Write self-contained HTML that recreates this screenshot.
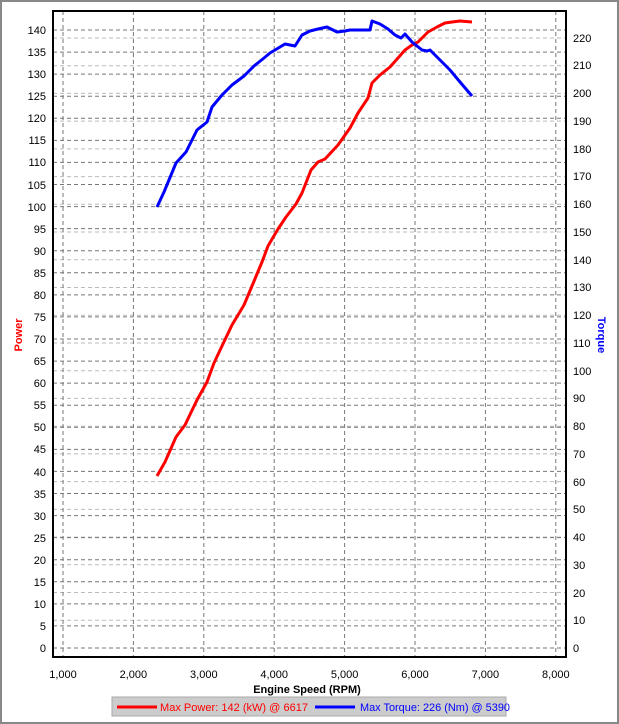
<!DOCTYPE html>
<html><head><style>
html,body{margin:0;padding:0;background:#fff;}
svg{display:block;font-family:"Liberation Sans",Arial,sans-serif;}
</style></head><body>
<svg width="619" height="724" viewBox="0 0 619 724" xmlns="http://www.w3.org/2000/svg">
<rect x="0" y="0" width="619" height="724" fill="#fff"/>
<rect x="1" y="1" width="617" height="722" fill="none" stroke="#888" stroke-width="2"/>
<g stroke="#bbb" stroke-dasharray="4,3" stroke-width="1">
<line x1="53" x2="566" y1="648" y2="648"/><line x1="53" x2="566" y1="620.3" y2="620.3"/><line x1="53" x2="566" y1="592.5" y2="592.5"/><line x1="53" x2="566" y1="564.8" y2="564.8"/><line x1="53" x2="566" y1="537.1" y2="537.1"/><line x1="53" x2="566" y1="509.4" y2="509.4"/><line x1="53" x2="566" y1="481.6" y2="481.6"/><line x1="53" x2="566" y1="453.9" y2="453.9"/><line x1="53" x2="566" y1="426.2" y2="426.2"/><line x1="53" x2="566" y1="398.4" y2="398.4"/><line x1="53" x2="566" y1="370.7" y2="370.7"/><line x1="53" x2="566" y1="343" y2="343"/><line x1="53" x2="566" y1="315.2" y2="315.2"/><line x1="53" x2="566" y1="287.5" y2="287.5"/><line x1="53" x2="566" y1="259.8" y2="259.8"/><line x1="53" x2="566" y1="232" y2="232"/><line x1="53" x2="566" y1="204.3" y2="204.3"/><line x1="53" x2="566" y1="176.6" y2="176.6"/><line x1="53" x2="566" y1="148.9" y2="148.9"/><line x1="53" x2="566" y1="121.1" y2="121.1"/><line x1="53" x2="566" y1="93.4" y2="93.4"/><line x1="53" x2="566" y1="65.7" y2="65.7"/><line x1="53" x2="566" y1="38" y2="38"/>
</g>
<g stroke="#777" stroke-dasharray="4,3" stroke-width="1">
<line x1="53" x2="566" y1="648" y2="648"/><line x1="53" x2="566" y1="625.9" y2="625.9"/><line x1="53" x2="566" y1="603.9" y2="603.9"/><line x1="53" x2="566" y1="581.8" y2="581.8"/><line x1="53" x2="566" y1="559.7" y2="559.7"/><line x1="53" x2="566" y1="537.6" y2="537.6"/><line x1="53" x2="566" y1="515.6" y2="515.6"/><line x1="53" x2="566" y1="493.5" y2="493.5"/><line x1="53" x2="566" y1="471.4" y2="471.4"/><line x1="53" x2="566" y1="449.4" y2="449.4"/><line x1="53" x2="566" y1="427.3" y2="427.3"/><line x1="53" x2="566" y1="405.2" y2="405.2"/><line x1="53" x2="566" y1="383.1" y2="383.1"/><line x1="53" x2="566" y1="361.1" y2="361.1"/><line x1="53" x2="566" y1="339" y2="339"/><line x1="53" x2="566" y1="316.9" y2="316.9"/><line x1="53" x2="566" y1="294.9" y2="294.9"/><line x1="53" x2="566" y1="272.8" y2="272.8"/><line x1="53" x2="566" y1="250.7" y2="250.7"/><line x1="53" x2="566" y1="228.6" y2="228.6"/><line x1="53" x2="566" y1="206.6" y2="206.6"/><line x1="53" x2="566" y1="184.5" y2="184.5"/><line x1="53" x2="566" y1="162.4" y2="162.4"/><line x1="53" x2="566" y1="140.4" y2="140.4"/><line x1="53" x2="566" y1="118.3" y2="118.3"/><line x1="53" x2="566" y1="96.2" y2="96.2"/><line x1="53" x2="566" y1="74.1" y2="74.1"/><line x1="53" x2="566" y1="52.1" y2="52.1"/><line x1="53" x2="566" y1="30" y2="30"/>
<line y1="11" y2="657" x1="63" x2="63"/><line y1="11" y2="657" x1="133.4" x2="133.4"/><line y1="11" y2="657" x1="203.8" x2="203.8"/><line y1="11" y2="657" x1="274.2" x2="274.2"/><line y1="11" y2="657" x1="344.6" x2="344.6"/><line y1="11" y2="657" x1="415" x2="415"/><line y1="11" y2="657" x1="485.4" x2="485.4"/><line y1="11" y2="657" x1="555.8" x2="555.8"/>
</g>
<rect x="53" y="11" width="513" height="646" fill="none" stroke="#000" stroke-width="2"/>
<g font-size="11" fill="#000" text-anchor="end">
<text x="46" y="652">0</text><text x="46" y="630">5</text><text x="46" y="608">10</text><text x="46" y="586">15</text><text x="46" y="564">20</text><text x="46" y="542">25</text><text x="46" y="520">30</text><text x="46" y="498">35</text><text x="46" y="476">40</text><text x="46" y="453">45</text><text x="46" y="431">50</text><text x="46" y="409">55</text><text x="46" y="387">60</text><text x="46" y="365">65</text><text x="46" y="343">70</text><text x="46" y="321">75</text><text x="46" y="299">80</text><text x="46" y="277">85</text><text x="46" y="255">90</text><text x="46" y="233">95</text><text x="46" y="211">100</text><text x="46" y="189">105</text><text x="46" y="166">110</text><text x="46" y="144">115</text><text x="46" y="122">120</text><text x="46" y="100">125</text><text x="46" y="78">130</text><text x="46" y="56">135</text><text x="46" y="34">140</text>
</g>
<g font-size="11" fill="#000" text-anchor="start">
<text x="573" y="652">0</text><text x="573" y="624">10</text><text x="573" y="597">20</text><text x="573" y="569">30</text><text x="573" y="541">40</text><text x="573" y="513">50</text><text x="573" y="486">60</text><text x="573" y="458">70</text><text x="573" y="430">80</text><text x="573" y="402">90</text><text x="573" y="375">100</text><text x="573" y="347">110</text><text x="573" y="319">120</text><text x="573" y="291">130</text><text x="573" y="264">140</text><text x="573" y="236">150</text><text x="573" y="208">160</text><text x="573" y="180">170</text><text x="573" y="153">180</text><text x="573" y="125">190</text><text x="573" y="97">200</text><text x="573" y="69">210</text><text x="573" y="42">220</text>
</g>
<g font-size="11" fill="#000" text-anchor="middle">
<text x="63" y="678">1,000</text><text x="133.4" y="678">2,000</text><text x="203.8" y="678">3,000</text><text x="274.2" y="678">4,000</text><text x="344.6" y="678">5,000</text><text x="415" y="678">6,000</text><text x="485.4" y="678">7,000</text><text x="555.8" y="678">8,000</text>
<text x="307" y="693" font-weight="bold" font-size="11">Engine Speed (RPM)</text>
</g>
<text x="22" y="335" font-size="11" font-weight="bold" fill="#f00" text-anchor="middle" transform="rotate(-90 22 335)">Power</text>
<text x="598" y="335" font-size="11" font-weight="bold" fill="#00f" text-anchor="middle" transform="rotate(90 598 335)">Torque</text>
<polyline fill="none" stroke="#f00" stroke-width="3" stroke-linejoin="round" points="157,476 165,462 176,437 185,425 197,400 207,382 214,363 222,346 232,325 244,305 252,286 262,262 268,246 278,229 286,217 296,204 302,193 311,170 318,162 325,159 338,145 350,128 358,113 368,98 372,83 380,75 390,67 398,58 405,50 412,45 418,42 428,32 437,27 445,23 452,22 460,21 472,22"/>
<polyline fill="none" stroke="#00f" stroke-width="3" stroke-linejoin="round" points="157,207 164,192 176,163 186,152 197,130 207,122 212,107 222,95 232,85 244,76 254,66 264,58 270,53 285,44 295,46 302,35 310,31 318,29 327,27 337,32 345,31 350,30 370,30 372,21 380,24 388,29 395,35 401,38 405,34 412,42 422,50 427,51 430,50 440,60 450,70 460,82 472,96"/>
<rect x="112" y="697" width="394" height="19" fill="#ccc" stroke="#aaa"/>
<line x1="117" x2="157" y1="707" y2="707" stroke="#f00" stroke-width="3"/>
<text x="160" y="711" font-size="11" fill="#f00" textLength="148" lengthAdjust="spacingAndGlyphs">Max Power: 142 (kW) @ 6617</text>
<line x1="315" x2="355" y1="707" y2="707" stroke="#00f" stroke-width="3"/>
<text x="360" y="711" font-size="11" fill="#00f" textLength="150" lengthAdjust="spacingAndGlyphs">Max Torque: 226 (Nm) @ 5390</text>
</svg>
</body></html>
